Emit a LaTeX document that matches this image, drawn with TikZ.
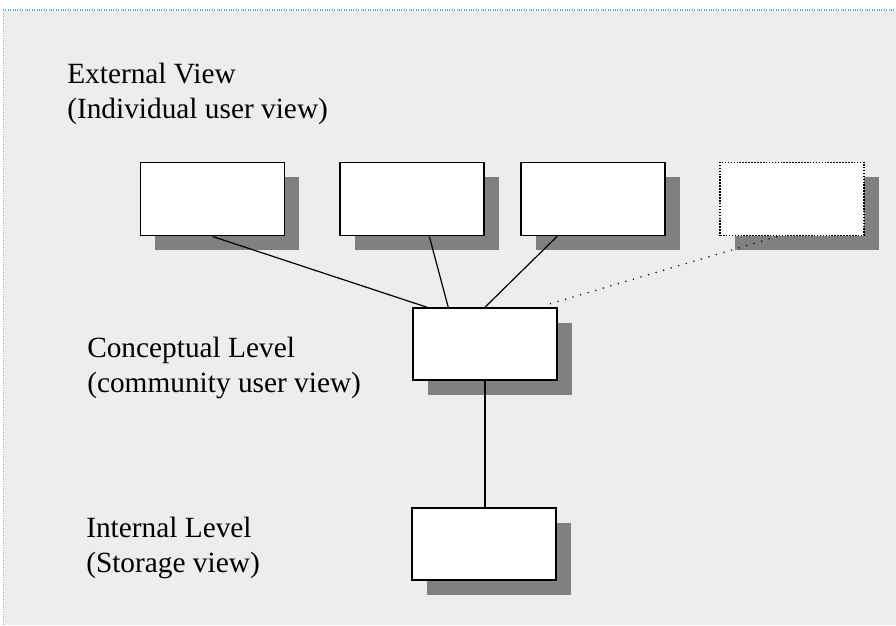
\documentclass[tikz,border=0pt]{standalone}
\usepackage{fontspec}
\setmainfont{Liberation Serif}
\usetikzlibrary{calc,shadows}
\definecolor{framecyan}{RGB}{70,170,215}
\definecolor{paper}{RGB}{237,237,237}

\begin{document}
\begin{tikzpicture}[x=0.75pt,y=-0.75pt,
  viewbox/.style={draw,fill=white,line width=1.2pt,inner sep=0pt,
    minimum width=108pt,minimum height=55pt,
    drop shadow={shadow xshift=11pt,shadow yshift=-11pt,fill=black!50,opacity=1}},
  lbl/.style={anchor=base west,align=left,inner sep=0pt,
    font=\fontsize{22}{26}\selectfont},
  link/.style={line width=0.9pt}]
\useasboundingbox (0,0) rectangle (896,625);
\fill[paper] (4,11) rectangle (896,625);
\draw[framecyan,densely dotted,line width=0.8pt] (3,10) -- (896,10);
\draw[black!35,densely dotted,line width=0.6pt] (3,10) -- (3,625);

% base is the last line of each label
\node[lbl] (extlbl) at (67,118) {External View\\(Individual user view)};
\node[lbl] (conlbl) at (87,392) {Conceptual Level\\(community user view)};
\node[lbl] (intlbl) at (86,572) {Internal Level\\(Storage view)};

\node[viewbox] (user1) at (212.5,199) {};
\node[viewbox] (user2) at (412,199) {};
\node[viewbox] (user3) at (593,199) {};
\node[viewbox,densely dotted] (user4) at (792,199) {};
\node[viewbox,minimum height=54pt] (concept) at (485,344) {};
\node[viewbox,minimum height=54pt] (internal) at (484,544) {};

\draw[link] (user1.south) -- ([xshift=11pt]concept.north west);
\draw[link] ([xshift=13pt]user2.south) -- ([xshift=27pt]concept.north west);
\draw[link] ([xshift=-27pt]user3.south) -- (concept.north);
\draw[link,dash pattern=on 0.9pt off 5pt] ([xshift=-11pt]user4.south) -- ([xshift=-7.5pt,yshift=2pt]concept.north east);
\draw[link] (concept.south) -- (concept.south |- internal.north);
\end{tikzpicture}
\end{document}
